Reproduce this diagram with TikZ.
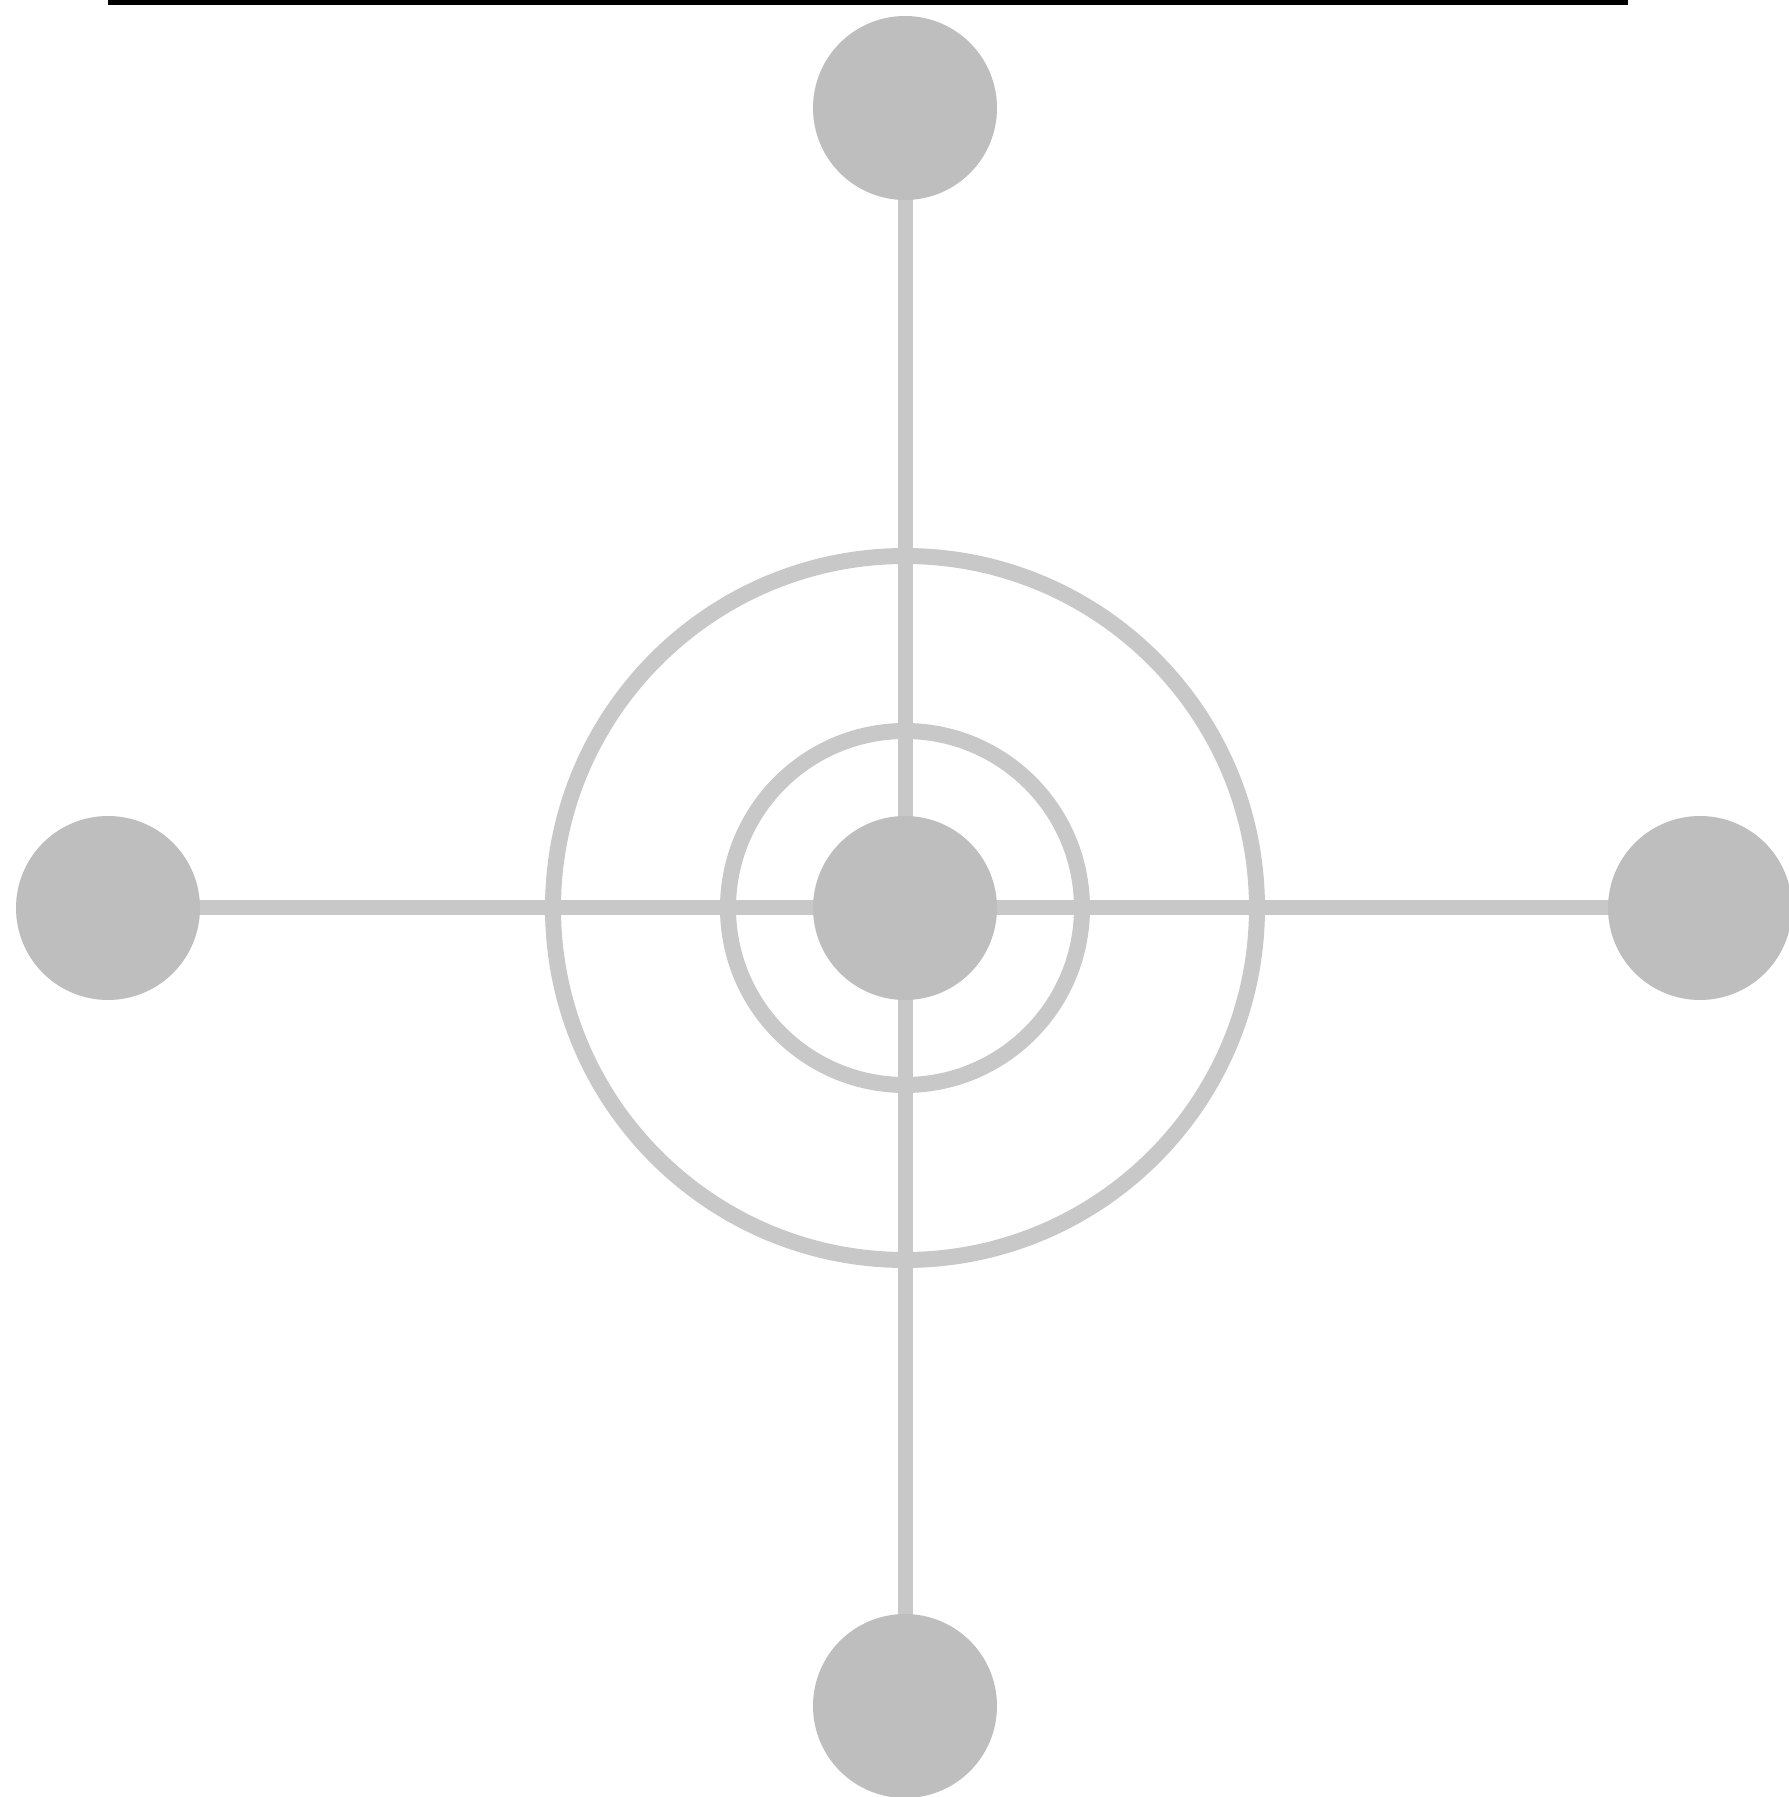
\documentclass[tikz,border=0pt]{standalone}
\usepackage{xcolor}
\usepackage{tikz}
\usetikzlibrary{calc,backgrounds}
\definecolor{dotgray}{HTML}{BEBEBE}
\definecolor{linegray}{HTML}{C8C8C8}
\tikzset{
  spoke/.style={draw=linegray, line width=0.15cm, shorten <=-3pt, shorten >=-3pt},
  ring/.style={circle, draw=linegray, line width=0.16cm, inner sep=0pt},
  dot/.style={circle, fill=dotgray, inner sep=0pt, outer sep=0pt, minimum size=1.84cm}
}
\begin{document}
\begin{tikzpicture}[x=1cm,y=1cm]
  \path[use as bounding box] (0,0) rectangle (17.89,17.97);

  \draw[line width=0.05cm] (1.08,17.945) -- (16.28,17.945);

  \node[ring, minimum size=7.04cm] (outerring) at (9.05,8.89) {};
  \node[ring, minimum size=3.54cm] (innerring) at (9.05,8.89) {};

  \node[dot] (mid) at (9.05,8.89) {};
  \node[dot] (top) at (9.05,16.89) {};
  \node[dot] (bottom) at (9.05,0.91) {};
  \node[dot] (left) at (1.08,8.89) {};
  \node[dot] (right) at (17.00,8.89) {};

  \begin{scope}[on background layer]
    \draw[spoke] (top) -- (mid);
    \draw[spoke] (mid) -- (bottom);
    \draw[spoke] (left) -- (mid);
    \draw[spoke] (mid) -- (right);
  \end{scope}
\end{tikzpicture}
\end{document}
